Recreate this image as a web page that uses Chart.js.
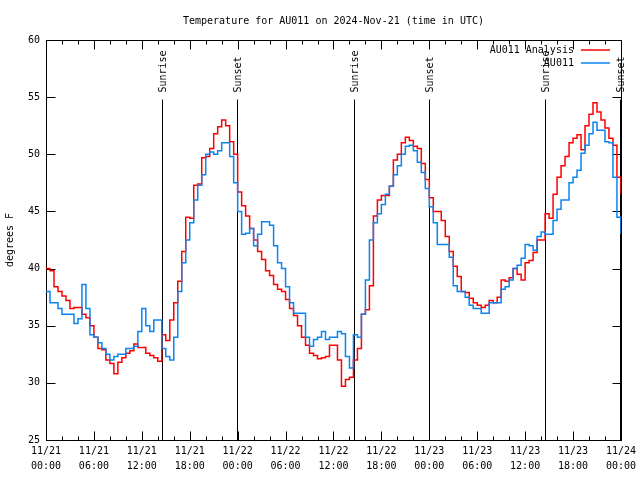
<!DOCTYPE html>
<html>
<head>
<meta charset="utf-8">
<script src="https://cdn.jsdelivr.net/npm/chart.js@4"></script>
<style>
  html, body { margin: 0; padding: 0; background: #fff; }
  #wrap { width: 640px; height: 480px; }
</style>
</head>
<body>
<div id="wrap"><canvas id="tempChart"></canvas></div>
<script>
// half-hourly readings, 11/21 00:00 UTC through 11/24 00:00 UTC
const stepHours = 0.5;

const analysisTemps = [
    40.0, 39.8, 38.4, 38.0, 37.6, 37.2, 36.5, 36.6, 36.6, 36.0, 35.7, 35.0,
    34.0, 33.0, 32.9, 32.0, 31.7, 30.8, 31.8, 32.2, 32.6, 32.8, 33.4, 33.1,
    33.1, 32.6, 32.4, 32.2, 31.9, 34.2, 33.7, 35.5, 37.0, 38.9, 41.5, 44.5,
    44.4, 47.3, 47.4, 49.7, 49.8, 50.5, 51.8, 52.4, 53.0, 52.5, 51.1, 50.0,
    46.7, 45.5, 44.6, 43.5, 42.5, 41.5, 40.8, 39.8, 39.4, 38.6, 38.2, 38.0,
    37.3, 36.5, 35.9, 35.0, 34.0, 33.3, 32.6, 32.4, 32.1, 32.2, 32.3, 33.3,
    33.3, 32.0, 29.7, 30.3, 30.5, 32.0, 33.0, 36.0, 36.4, 38.5, 44.6, 46.0,
    46.4, 46.4, 47.2, 49.5, 50.0, 51.0, 51.5, 51.2, 50.7, 50.5, 49.2, 47.8,
    46.2, 45.0, 45.0, 44.2, 42.8, 41.5, 40.2, 39.3, 38.0, 37.9, 37.4, 37.0,
    36.8, 36.6, 36.8, 37.2, 37.0, 37.5, 39.0, 38.9, 39.2, 40.0, 39.5, 39.0,
    40.5, 40.7, 41.4, 42.5, 42.5, 44.8, 44.4, 46.5, 48.0, 49.0, 49.8, 51.0,
    51.4, 51.7, 50.4, 52.5, 53.5, 54.5, 53.7, 53.0, 52.3, 51.4, 50.8, 48.0,
    46.5
];

const stationTemps = [
    38.0, 37.0, 37.0, 36.5, 36.0, 36.0, 36.0, 35.2, 35.6, 38.6, 36.5, 34.2,
    34.0, 33.5, 33.0, 32.5, 32.0, 32.3, 32.5, 32.5, 33.0, 33.0, 33.2, 34.5,
    36.5, 35.0, 34.5, 35.5, 35.5, 33.0, 32.3, 32.0, 34.0, 38.0, 40.5, 42.5,
    44.0, 46.0, 47.3, 48.2, 50.0, 50.2, 50.0, 50.3, 51.0, 51.0, 49.8, 47.5,
    45.0, 43.0, 43.1, 43.5, 42.0, 43.0, 44.1, 44.1, 43.8, 42.0, 40.5, 40.0,
    38.4, 37.0, 36.1, 36.1, 36.1, 34.0, 33.2, 33.8, 34.0, 34.5, 33.8, 34.0,
    34.0, 34.5, 34.3, 32.3, 31.3, 34.2, 34.0, 36.0, 39.0, 42.5, 44.0, 44.8,
    45.6, 46.5, 47.2, 48.2, 49.0, 50.0, 50.7, 50.8, 50.3, 49.3, 48.4, 47.0,
    45.4, 44.0, 42.1, 42.1, 42.1, 41.0, 38.5, 38.0, 38.0, 37.5, 36.8, 36.5,
    36.5, 36.1, 36.1, 37.0, 37.0, 37.0, 38.2, 38.4, 39.0, 40.0, 40.3, 40.9,
    42.1, 42.0, 41.6, 42.8, 43.2, 43.0, 43.0, 44.2, 45.2, 46.0, 46.0, 47.5,
    48.0, 48.6, 50.1, 50.8, 51.8, 52.8, 52.1, 52.1, 51.1, 51.0, 48.0, 44.5,
    43.0
];

// one label pair per 6 hours
const dayLabels = ['11/21', '11/21', '11/21', '11/21', '11/22', '11/22', '11/22',
                   '11/22', '11/23', '11/23', '11/23', '11/23', '11/24'];
const hourLabels = ['00:00', '06:00', '12:00', '18:00', '00:00', '06:00', '12:00',
                    '18:00', '00:00', '06:00', '12:00', '18:00', '00:00'];

const eventHours = [14.5, 23.9, 38.55, 47.9, 62.45, 71.9];
const eventNames = ['Sunrise', 'Sunset', 'Sunrise', 'Sunset', 'Sunrise', 'Sunset'];

const chartTitle = 'Temperature for AU011 on 2024-Nov-21 (time in UTC)';
const FONT = "'DejaVu Sans Mono', monospace";

const gnuplotFrame = {
    id: 'gnuplotFrame',
    beforeDatasetsDraw(chart) {
        const { ctx, chartArea: a, scales: { x, y } } = chart;
        ctx.save();
        ctx.strokeStyle = '#000';
        ctx.lineWidth = 1;
        const L = Math.round(a.left) + 0.5, R = Math.round(a.right) + 0.5;
        const T = Math.round(a.top) + 0.5, B = Math.round(a.bottom) + 0.5;
        ctx.strokeRect(L, T, R - L, B - T);

        ctx.beginPath();
        x.ticks.forEach(t => {
            const px = Math.round(x.getPixelForValue(t.value)) + 0.5;
            const len = t.value % 6 === 0 ? 9 : 4;
            ctx.moveTo(px, B); ctx.lineTo(px, B - len);
            ctx.moveTo(px, T); ctx.lineTo(px, T + len);
        });
        y.ticks.forEach(t => {
            const py = Math.round(y.getPixelForValue(t.value)) + 0.5;
            ctx.moveTo(L, py); ctx.lineTo(L + 9, py);
            ctx.moveTo(R, py); ctx.lineTo(R - 9, py);
        });
        ctx.stroke();

        ctx.font = '10px ' + FONT;
        ctx.fillStyle = '#000';
        // title, centred over the plot box
        ctx.textAlign = 'center';
        ctx.textBaseline = 'middle';
        ctx.fillText(chartTitle, (a.left + a.right) / 2, 21);

        // sunrise / sunset markers
        eventHours.forEach((h, i) => {
            const px = Math.round(x.getPixelForValue(h)) + 0.5;
            const top = T + 59;
            ctx.beginPath();
            ctx.moveTo(px, top);
            ctx.lineTo(px, B);
            ctx.stroke();
            ctx.save();
            ctx.translate(px + 1, top - 7);
            ctx.rotate(-Math.PI / 2);
            ctx.textAlign = 'left';
            ctx.textBaseline = 'middle';
            ctx.fillText(eventNames[i], 0, 0);
            ctx.restore();
        });
        ctx.restore();
    },
    afterDatasetsDraw(chart) {
        const { ctx, chartArea: a } = chart;
        ctx.save();
        ctx.font = '10px ' + FONT;
        ctx.textAlign = 'right';
        ctx.textBaseline = 'middle';
        chart.data.datasets.forEach((ds, i) => {
            const yy = a.top + 10 + i * 13;
            ctx.fillStyle = '#000';
            ctx.fillText(ds.label, a.right - 47, yy);
            ctx.strokeStyle = ds.borderColor;
            ctx.lineWidth = 1.5;
            ctx.beginPath();
            ctx.moveTo(a.right - 40, yy);
            ctx.lineTo(a.right - 11, yy);
            ctx.stroke();
        });
        ctx.restore();
    }
};

const ctx = document.getElementById('tempChart').getContext('2d');
new Chart(ctx, {
    type: 'line',
    data: {
        datasets: [{
            label: 'AU011 Analysis',
            data: analysisTemps.map((v, i) => ({ x: i * stepHours, y: v })),
            borderColor: '#ff0000',
            borderWidth: 1.5,
            stepped: 'before',
            pointRadius: 0,
            order: 1
        }, {
            label: 'AU011',
            data: stationTemps.map((v, i) => ({ x: i * stepHours, y: v })),
            borderColor: '#0a84f0',
            borderWidth: 1.5,
            stepped: 'before',
            pointRadius: 0,
            order: 0
        }]
    },
    options: {
        responsive: true,
        maintainAspectRatio: false,
        animation: false,
        layout: { padding: { top: 40, right: 4 } },
        plugins: {
            legend: { display: false },
            tooltip: { enabled: false },
            title: { display: false }
        },
        scales: {
            x: {
                type: 'linear',
                min: 0,
                max: 72,
                grid: { display: false, drawTicks: false },
                border: { display: false },
                afterFit(scale) { scale.height = 40; },
                ticks: {
                    stepSize: 2,
                    autoSkip: false,
                    maxRotation: 0,
                    padding: 4,
                    color: '#000',
                    font: { family: FONT, size: 10, lineHeight: 1.5 },
                    callback(value) {
                        if (value % 6 !== 0) return '';
                        const k = value / 6;
                        return [dayLabels[k], hourLabels[k]];
                    }
                }
            },
            y: {
                min: 25,
                max: 60,
                grid: { display: false, drawTicks: false },
                border: { display: false },
                afterFit(scale) { scale.width = 46; },
                title: {
                    display: true,
                    text: 'degrees F',
                    color: '#000',
                    font: { family: FONT, size: 10 },
                    padding: { top: 4, bottom: 0 }
                },
                ticks: {
                    stepSize: 5,
                    padding: 6,
                    color: '#000',
                    font: { family: FONT, size: 10 }
                }
            }
        }
    },
    plugins: [gnuplotFrame]
});
</script>
</body>
</html>
